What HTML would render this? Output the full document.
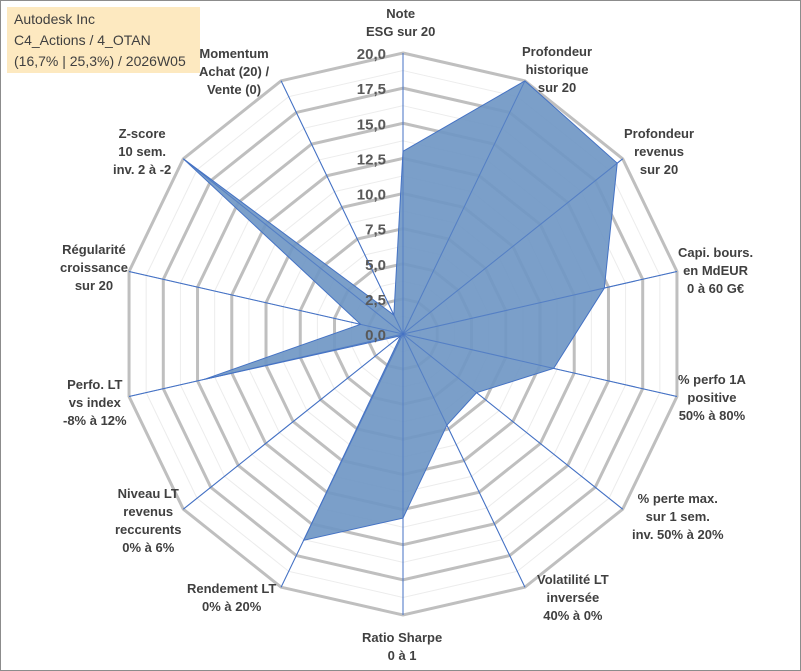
<!DOCTYPE html>
<html><head><meta charset="utf-8"><style>
body{margin:0;background:#fff;font-family:"Liberation Sans",sans-serif}
#wrap{position:relative;width:801px;height:671px;overflow:hidden}
.lbl{position:absolute;font-weight:bold;font-size:13px;color:#404040;text-align:center;line-height:18px;white-space:nowrap}
</style></head><body>
<div id="wrap">
<svg id="svg" width="801" height="671" style="position:absolute;left:0;top:0">
<rect x="0.5" y="0.5" width="800" height="670" fill="#fff" stroke="#8c8c8c"/>
<rect x="7" y="7" width="193" height="66" fill="#fde9c0"/>
<text x="14" y="24" font-size="14" fill="#404040" font-family="Liberation Sans, sans-serif">Autodesk Inc</text>
<text x="14" y="45" font-size="14" fill="#404040" font-family="Liberation Sans, sans-serif">C4_Actions / 4_OTAN</text>
<text x="14" y="66" font-size="14" fill="#404040" font-family="Liberation Sans, sans-serif">(16,7% | 25,3%) / 2026W05</text>
<g id="grid"></g><g id="series"></g><g id="ticks"></g>
</svg>
<div class="lbl" style="left:366px;top:5px">Note<br>ESG sur 20</div>
<div class="lbl" style="left:522px;top:43px">Profondeur<br>historique<br>sur 20</div>
<div class="lbl" style="left:624px;top:125px">Profondeur<br>revenus<br>sur 20</div>
<div class="lbl" style="left:678px;top:244px">Capi. bours.<br>en MdEUR<br>0 à 60 G€</div>
<div class="lbl" style="left:678px;top:371px">% perfo 1A<br>positive<br>50% à 80%</div>
<div class="lbl" style="left:632px;top:490px">% perte max.<br>sur 1 sem.<br>inv. 50% à 20%</div>
<div class="lbl" style="left:537px;top:571px">Volatilité LT<br>inversée<br>40% à 0%</div>
<div class="lbl" style="left:362px;top:629px">Ratio Sharpe<br>0 à 1</div>
<div class="lbl" style="left:187px;top:580px">Rendement LT<br>0% à 20%</div>
<div class="lbl" style="left:115px;top:485px">Niveau LT<br>revenus<br>reccurents<br>0% à 6%</div>
<div class="lbl" style="left:63px;top:376px">Perfo. LT<br>vs index<br>-8% à 12%</div>
<div class="lbl" style="left:60px;top:241px">Régularité<br>croissance<br>sur 20</div>
<div class="lbl" style="left:113px;top:125px">Z-score<br>10 sem.<br>inv. 2 à -2</div>
<div class="lbl" style="left:199px;top:45px">Momentum<br>Achat (20) /<br>Vente (0)</div>
</div>
<script>
const categories=["ESG","Prof. hist.","Prof. rev.","Capi","Perfo 1A","Perte max","Volatilité","Sharpe","Rendement LT","Niveau LT","Perfo LT","Régularité","Z-score","Momentum"];
const values=[13,20,19.5,14.7,11,6.7,7.2,13.1,16.3,0.2,14.5,3.1,20,1.5];
const tickLabels=["0,0","2,5","5,0","7,5","10,0","12,5","15,0","17,5","20,0"];
const CX=403,CY=334,R=281,MAX=20;
const NS="http://www.w3.org/2000/svg";
function pt(i,v){const a=i*2*Math.PI/categories.length;const r=v/MAX*R;return [CX+r*Math.sin(a),CY-r*Math.cos(a)];}
function mk(tag,attrs,parent){const e=document.createElementNS(NS,tag);for(const k in attrs)e.setAttribute(k,attrs[k]);parent.appendChild(e);return e;}
const grid=document.getElementById('grid'),ser=document.getElementById('series'),tk=document.getElementById('ticks');
for(let s=1;s<=16;s++){const v=s*1.25;const p=categories.map((c,i)=>pt(i,v).join(',')).join(' ');
 const el=mk('polygon',{points:p,fill:'none',stroke:s%2?'#ececec':'#bfbfbf','stroke-width':s%2?1:3},grid);
 
 }
categories.forEach((c,i)=>{const p=pt(i,MAX);const l=mk('line',{x1:CX,y1:CY,x2:p[0],y2:p[1],stroke:'#4472c4','stroke-width':1},grid);
 
 });
const poly=values.map((v,i)=>pt(i,v).join(',')).join(' ');
const area=mk('polygon',{points:poly,fill:'#7097c4','fill-opacity':0.92,stroke:'#4472c4','stroke-width':1},ser);


categories.forEach((c,i)=>{const p=pt(i,MAX);const l=mk('line',{x1:CX,y1:CY,x2:p[0],y2:p[1],stroke:'#4472c4','stroke-width':1,'stroke-opacity':0.6},ser);
 
 });
tickLabels.forEach((t,k)=>{const y=CY-k*2.5/MAX*R;const e=mk('text',{x:386,y:y+6,'text-anchor':'end','font-size':15,'font-weight':'bold',fill:'#595959','font-family':'Liberation Sans, sans-serif'},tk);
 e.textContent=t;
 
 });
</script>
</body></html>
